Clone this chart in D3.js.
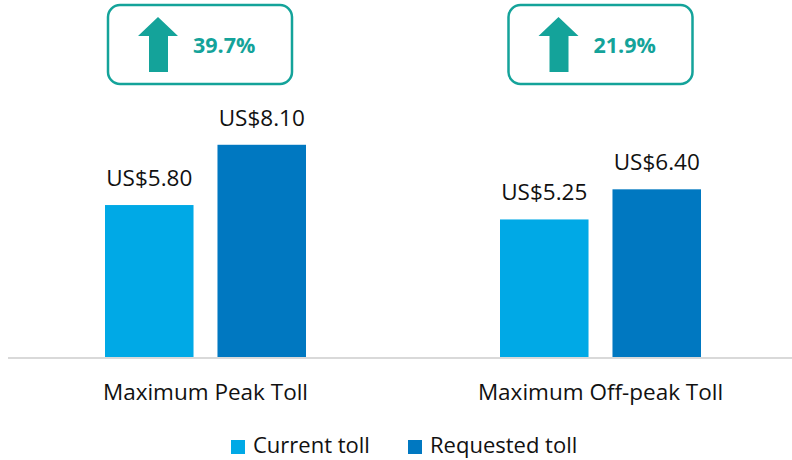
<!DOCTYPE html>
<html>
<head>
<meta charset="utf-8">
<script src="https://cdn.jsdelivr.net/npm/d3@7"></script>
<style>
  body { margin: 0; background: #fff; }
  text { font-family: "Open Sans", "Noto Sans", sans-serif; }
</style>
</head>
<body>
<svg id="mainSVG" width="792" height="460"></svg>
<script>
var categories = ["Maximum Peak Toll", "Maximum Off-peak Toll"];
var seriesNames = ["Current toll", "Requested toll"];
var currentToll = [5.80, 5.25];
var requestedToll = [8.10, 6.40];
var changeLabels = ["39.7%", "21.9%"];

var colors = ["#00a9e6", "#0078c1"];
var teal = "#14a39a";
var baseY = 357;

var $svg = d3.select("#mainSVG");

var x0 = d3.scaleBand().domain(categories).range([8, 798]);
var x1 = d3.scaleBand().domain(seriesNames).range([97, 298]).paddingInner(0.213);
var y = d3.scaleLinear().domain([0, 10]).range([baseY, 95]);

var rows = categories.map((c, i) => ({
    cat: c,
    vals: [currentToll[i], requestedToll[i]]
}));

// baseline
$svg.append("line")
    .attr("x1", 8).attr("x2", 792)
    .attr("y1", baseY + 1).attr("y2", baseY + 1)
    .attr("stroke", "#d9d9d9").attr("stroke-width", 2);

var $groups = $svg.selectAll("g.grp").data(rows).enter()
    .append("g").attr("class", "grp")
    .attr("transform", d => `translate(${x0(d.cat)},0)`);

$groups.selectAll("rect").data(d => d.vals).enter()
    .append("rect")
    .attr("x", (d, i) => x1(seriesNames[i]))
    .attr("y", d => y(d))
    .attr("width", x1.bandwidth())
    .attr("height", d => baseY - y(d))
    .attr("fill", (d, i) => colors[i]);

$groups.selectAll("text.val").data(d => d.vals).enter()
    .append("text").attr("class", "val")
    .attr("x", (d, i) => x1(seriesNames[i]) + x1.bandwidth() / 2)
    .attr("y", d => y(d) - 19)
    .attr("text-anchor", "middle")
    .attr("font-size", 22.5)
    .attr("fill", "#111")
    .text(d => "US$" + d.toFixed(2));

// category labels
$svg.selectAll("text.cat").data(categories).enter()
    .append("text").attr("class", "cat")
    .attr("x", d => x0(d) + x0.bandwidth() / 2)
    .attr("y", 400)
    .attr("text-anchor", "middle")
    .attr("font-size", 22.5)
    .attr("fill", "#111")
    .text(d => d);

// change boxes
var boxW = 184, boxH = 79;
var boxShift = [-5.5, 0];
var $boxes = $svg.selectAll("g.box").data(changeLabels).enter()
    .append("g").attr("class", "box")
    .attr("transform", (d, i) => `translate(${x0(categories[i]) + x0.bandwidth() / 2 + boxShift[i] - boxW / 2},5)`);

$boxes.append("rect")
    .attr("width", boxW).attr("height", boxH)
    .attr("rx", 12).attr("ry", 12)
    .attr("fill", "#fff")
    .attr("stroke", teal).attr("stroke-width", 2.5);

$boxes.append("path")
    .attr("d", "M30 31 L50 12 L70 31 L60 31 L60 67 L41 67 L41 31 Z")
    .attr("fill", teal);

$boxes.append("text")
    .attr("x", 85).attr("y", 48)
    .attr("font-size", 21.5)
    .attr("font-weight", "bold")
    .attr("fill", teal)
    .text(d => d);

// legend
var legendX = [231, 408];
var $leg = $svg.selectAll("g.leg").data(seriesNames).enter()
    .append("g").attr("class", "leg")
    .attr("transform", (d, i) => `translate(${legendX[i]},440)`);

$leg.append("rect")
    .attr("width", 14).attr("height", 14)
    .attr("fill", (d, i) => colors[i]);

$leg.append("text")
    .attr("x", 22).attr("y", 13)
    .attr("font-size", 22)
    .attr("fill", "#111")
    .text(d => d);
</script>
</body>
</html>
